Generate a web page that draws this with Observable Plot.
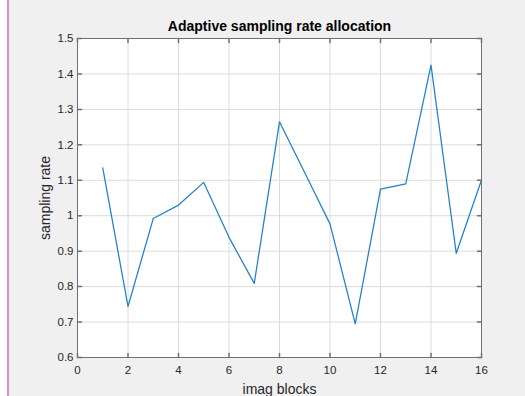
<!DOCTYPE html>
<html>
<head>
<meta charset="utf-8">
<script src="https://cdn.jsdelivr.net/npm/d3@7"></script>
<script src="https://cdn.jsdelivr.net/npm/@observablehq/plot@0.6"></script>
<style>
  html, body { margin: 0; padding: 0; }
  body {
    width: 525px; height: 396px; overflow: hidden;
    background: linear-gradient(to right, #ffffff 0 7px, #e58cbc 7px 9px, #f0f0f0 9px);
  }
  #chart svg { display: block; }
</style>
</head>
<body>
<div id="chart"></div>
<script>
// ---- data ----
const blocks = [1, 2, 3, 4, 5, 6, 7, 8, 9, 10, 11, 12, 13, 14, 15, 16];
const rates = [1.135, 0.744, 0.992, 1.030, 1.094, 0.939, 0.809, 1.265, 1.121, 0.977, 0.695, 1.075, 1.090, 1.425, 0.894, 1.101];
const xTicks = [0, 2, 4, 6, 8, 10, 12, 14, 16];
const yTicks = [0.6, 0.7, 0.8, 0.9, 1.0, 1.1, 1.2, 1.3, 1.4, 1.5];
const yTickLabels = ["0.6", "0.7", "0.8", "0.9", "1", "1.1", "1.2", "1.3", "1.4", "1.5"];
const titleText = "Adaptive sampling rate allocation";
const xLabelText = "imag blocks";
const yLabelText = "sampling rate";

const data = blocks.map((b, i) => ({block: b, rate: rates[i]}));

const tickShape = {
  draw(context, l) { context.moveTo(0, 0); context.lineTo(0, -l); }
};
const axisColor = "#707070";
const textColor = "#262626";

const chart = Plot.plot({
  width: 525,
  height: 396,
  marginLeft: 77,
  marginRight: 44,
  marginTop: 38,
  marginBottom: 39,
  style: {fontFamily: "'Liberation Sans', Arial, sans-serif", background: "transparent", overflow: "visible"},
  x: {domain: [0, 16]},
  y: {domain: [0.6, 1.5]},
  marks: [
    Plot.frame({fill: "white", stroke: "none"}),
    Plot.gridX(xTicks, {stroke: "#dcdcdc", strokeOpacity: 1}),
    Plot.gridY(yTicks, {stroke: "#dcdcdc", strokeOpacity: 1}),
    Plot.line(data, {x: "block", y: "rate", stroke: "#1f82cc", strokeWidth: 1.25}),
    // inward tick marks on all four sides
    Plot.vector(xTicks, {x: d => d, y: () => 0.6, length: 4, anchor: "start", rotate: 0, shape: tickShape, stroke: axisColor}),
    Plot.vector(xTicks, {x: d => d, y: () => 1.5, length: 4, anchor: "start", rotate: 180, shape: tickShape, stroke: axisColor}),
    Plot.vector(yTicks, {y: d => d, x: () => 0, length: 4, anchor: "start", rotate: 90, shape: tickShape, stroke: axisColor}),
    Plot.vector(yTicks, {y: d => d, x: () => 16, length: 4, anchor: "start", rotate: -90, shape: tickShape, stroke: axisColor}),
    Plot.frame({stroke: axisColor}),
    Plot.axisX({ticks: xTicks, tickSize: 0, tickPadding: 8, fontSize: 11.5, color: textColor, label: null}),
    Plot.axisY({ticks: yTicks, tickSize: 0, tickPadding: 4, fontSize: 11.5, color: textColor, label: null,
      tickFormat: (d) => yTickLabels[yTicks.findIndex(t => Math.abs(t - d) < 1e-9)]}),
    Plot.text([titleText], {frameAnchor: "top", dy: -8, lineAnchor: "bottom", text: d => d, fontSize: 14, fontWeight: "bold", fill: "#000"}),
    Plot.text([xLabelText], {frameAnchor: "bottom", dy: 32, lineAnchor: "middle", text: d => d, fontSize: 14, fill: textColor}),
    Plot.text([yLabelText], {frameAnchor: "left", dx: -32, rotate: -90, textAnchor: "middle", text: d => d, fontSize: 14, fill: textColor})
  ]
});
document.getElementById("chart").append(chart);
</script>
</body>
</html>
